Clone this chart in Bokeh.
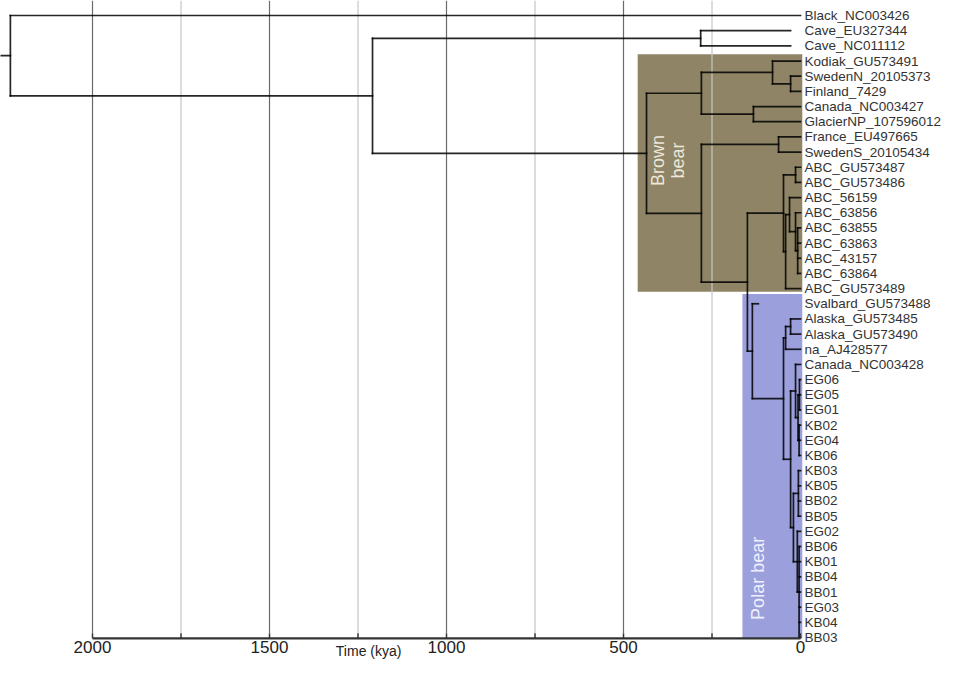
from bokeh.plotting import figure
from bokeh.models import Range1d, ColumnDataSource
from bokeh.core.properties import value
from bokeh.embed import file_html
from bokeh.resources import INLINE

# ---------------- data ----------------
leaves = ["Black_NC003426", "Cave_EU327344", "Cave_NC011112", "Kodiak_GU573491",
          "SwedenN_20105373", "Finland_7429", "Canada_NC003427", "GlacierNP_107596012",
          "France_EU497665", "SwedenS_20105434", "ABC_GU573487", "ABC_GU573486",
          "ABC_56159", "ABC_63856", "ABC_63855", "ABC_63863", "ABC_43157", "ABC_63864",
          "ABC_GU573489", "Svalbard_GU573488", "Alaska_GU573485", "Alaska_GU573490",
          "na_AJ428577", "Canada_NC003428", "EG06", "EG05", "EG01", "KB02", "EG04",
          "KB06", "KB03", "KB05", "BB02", "BB05", "EG02", "BB06", "KB01", "BB04",
          "BB01", "EG03", "KB04", "BB03"]
# tip ages in kya (ancient samples are not at 0)
tip_ages = [0, 28, 28] + [0] * 16 + [119] + [0] * 22

node_names = ["root", "A", "cave", "brownMRCA", "N1", "KSF", "SF", "CG", "N2", "FS",
              "C", "ABC", "P", "Q", "R", "S", "T", "polarMRCA", "polarModern", "AN",
              "AA", "rest", "U", "U1", "U2", "U3", "V", "V1", "V4", "V5"]
node_ages = [2232, 1209, 282, 435, 280, 79, 28, 133, 280, 62,
             150, 48, 14, 42, 31, 14, 8, 136, 48, 42,
             28, 28, 14, 7, 3, 4, 20, 6, 9, 4]
node_children = [
    ["Black_NC003426", "A"],
    ["cave", "brownMRCA"],
    ["Cave_EU327344", "Cave_NC011112"],
    ["N1", "N2"],
    ["KSF", "CG"],
    ["Kodiak_GU573491", "SF"],
    ["SwedenN_20105373", "Finland_7429"],
    ["Canada_NC003427", "GlacierNP_107596012"],
    ["FS", "C"],
    ["France_EU497665", "SwedenS_20105434"],
    ["ABC", "polarMRCA"],
    ["P", "Q"],
    ["ABC_GU573487", "ABC_GU573486"],
    ["R", "ABC_GU573489"],
    ["ABC_56159", "S"],
    ["ABC_63856", "T"],
    ["ABC_63855", "ABC_63863", "ABC_43157", "ABC_63864"],
    ["Svalbard_GU573488", "polarModern"],
    ["AN", "rest"],
    ["AA", "na_AJ428577"],
    ["Alaska_GU573485", "Alaska_GU573490"],
    ["U", "V"],
    ["Canada_NC003428", "U1"],
    ["U2", "U3"],
    ["EG06", "EG05", "EG01"],
    ["KB02", "EG04", "KB06"],
    ["V1", "V4"],
    ["KB03", "KB05", "BB02", "BB05"],
    ["EG02", "V5"],
    ["BB06", "KB01", "BB04", "BB01", "EG03", "KB04", "BB03"],
]

clade_labels = ["Brown\nbear", "Polar bear"]
clade_first = ["Kodiak_GU573491", "Svalbard_GU573488"]
clade_last = ["ABC_GU573489", "BB03"]
clade_start_kya = [460, 164]

major_ticks = [2000, 1500, 1000, 500, 0]
tick_labels = ["2000", "1500", "1000", "500", "0"]
minor_ticks = [1750, 1250, 750, 250]
grid_major = [2000, 1500, 1000, 500]
axis_title = "Time (kya)"

# ---------------- tree layout ----------------
ypos = {n: i for i, n in enumerate(leaves)}
age = dict(zip(leaves, tip_ages))
age.update(zip(node_names, node_ages))
children = dict(zip(node_names, node_children))


def gety(n):
    if n in ypos:
        return ypos[n]
    ys = [gety(c) for c in children[n]]
    ypos[n] = (min(ys) + max(ys)) / 2.0
    return ypos[n]


gety("root")

# layout constants (pixel-matched ranges)
X_LEFT, X_RIGHT = 2259.9, -401.1
Y_TOP, Y_BOTTOM = -0.99, 42.58
AXIS_Y = 41.05         # row coordinate of the time axis line
GRID_BOTTOM = 40.7
TICK_LEN = 0.33

x0, y0, x1, y1 = [], [], [], []
for n in node_names:
    ys = [ypos[c] for c in children[n]]
    x0.append(age[n]); y0.append(min(ys)); x1.append(age[n]); y1.append(max(ys))
    for c in children[n]:
        x0.append(age[n]); y0.append(ypos[c]); x1.append(age[c]); y1.append(ypos[c])
# root stub
x0.append(X_LEFT); y0.append(ypos["root"]); x1.append(age["root"]); y1.append(ypos["root"])

p = figure(width=942, height=661, output_backend="svg", toolbar_location=None,
           x_range=Range1d(X_LEFT, X_RIGHT), y_range=Range1d(Y_BOTTOM, Y_TOP),
           x_axis_type=None, y_axis_type=None,
           min_border_left=0, min_border_right=0, min_border_top=0, min_border_bottom=0)
p.outline_line_color = None
p.background_fill_color = "white"
p.xgrid.visible = False
p.ygrid.visible = False

# clade boxes
box_src = ColumnDataSource(dict(
    left=clade_start_kya,
    right=[-5, -5],
    top=[ypos[clade_first[0]] - 0.45, ypos[clade_first[1]] - 0.65],
    bottom=[ypos[clade_last[0]] + 0.2, ypos[clade_last[1]] + 0.05],
    color=["#8f8566", "#9b9fdb"],
))
p.quad(left="left", right="right", top="top", bottom="bottom", source=box_src,
       fill_color="color", line_color=None)

# time grid
p.segment(x0=grid_major, x1=grid_major, y0=[Y_TOP] * len(grid_major),
          y1=[GRID_BOTTOM] * len(grid_major), line_color="#6a6a6a", line_width=1.2)
p.segment(x0=minor_ticks, x1=minor_ticks, y0=[Y_TOP] * len(minor_ticks),
          y1=[GRID_BOTTOM] * len(minor_ticks), line_color="#c6c6c6", line_width=1.2)

# tree
p.segment(x0=x0, y0=y0, x1=x1, y1=y1, line_color="black", line_alpha=0.85,
          line_width=1.7, line_cap="square")

# leaf labels
p.text(x=[0] * len(leaves), y=list(range(len(leaves))), text=leaves, x_offset=4,
       text_baseline="middle", text_align="left", text_font=value("Liberation Sans"),
       text_font_size="13.5px", text_color="#333333")

# clade labels
p.text(x=[373, 119], y=[9.56, 37.1], text=clade_labels, angle=1.5708,
       text_align="center", text_baseline="middle", text_font=value("Liberation Sans"),
       text_font_size="18px", text_color=["#ece8dc", "#eef0ff"], text_line_height=1.0)

# time axis (drawn in data space)
p.segment(x0=[major_ticks[0]], x1=[major_ticks[-1]], y0=[AXIS_Y], y1=[AXIS_Y],
          line_color="#333333", line_width=2.2)
all_ticks = major_ticks + minor_ticks
p.segment(x0=all_ticks, x1=all_ticks, y0=[AXIS_Y] * len(all_ticks),
          y1=[AXIS_Y - TICK_LEN] * len(all_ticks), line_color="#333333", line_width=1.5)
p.text(x=major_ticks, y=[AXIS_Y] * len(major_ticks), text=tick_labels, y_offset=3,
       text_align="center", text_baseline="top", text_font=value("Liberation Sans"),
       text_font_size="17px", text_color="#222222")
p.text(x=[1220], y=[AXIS_Y], text=[axis_title], y_offset=5,
       text_align="center", text_baseline="top", text_font=value("Liberation Sans"),
       text_font_size="14px", text_color="#222222")

open("out.html", "w").write(file_html(p, INLINE))
